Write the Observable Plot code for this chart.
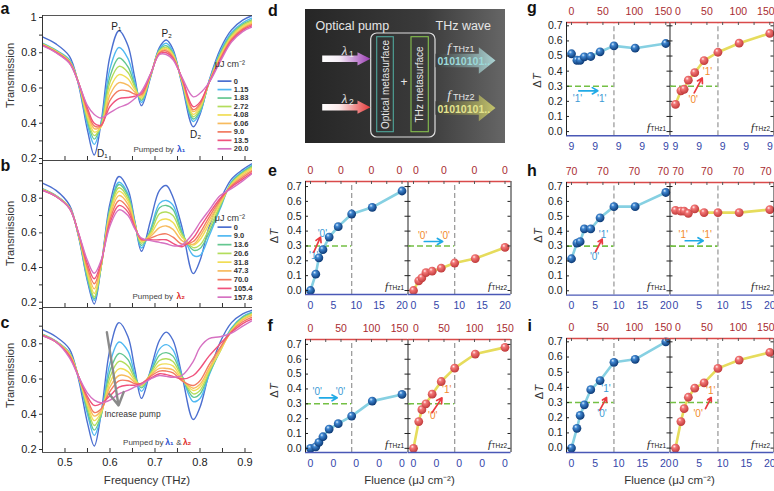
<!DOCTYPE html>
<html>
<head>
<meta charset="utf-8">
<script src="https://cdn.jsdelivr.net/npm/d3@7"></script>
<script src="https://cdn.jsdelivr.net/npm/@observablehq/plot@0.6"></script>
<style>
  html, body { margin: 0; padding: 0; background: #fff; }
  #fig { position: relative; width: 774px; height: 491px; overflow: hidden; font-family: 'Liberation Sans', Arial, sans-serif; }
</style>
</head>
<body>
<div id="fig">
<svg width="0" height="0" style="position:absolute">
  <defs>
    <radialGradient id="ballBlue" cx="0.42" cy="0.38" r="0.62" fx="0.36" fy="0.3">
      <stop offset="0" stop-color="#d9eeff"/>
      <stop offset="0.3" stop-color="#3f86d0"/>
      <stop offset="1" stop-color="#0b3874"/>
    </radialGradient>
    <radialGradient id="ballRed" cx="0.42" cy="0.38" r="0.62" fx="0.36" fy="0.3">
      <stop offset="0" stop-color="#fff2f2"/>
      <stop offset="0.3" stop-color="#f37676"/>
      <stop offset="1" stop-color="#c03a3a"/>
    </radialGradient>
    <linearGradient id="diagramBg" x1="0" x2="1" y1="0" y2="0">
      <stop offset="0" stop-color="#262626"/>
      <stop offset="0.6" stop-color="#3b3b3b"/>
      <stop offset="1" stop-color="#666666"/>
    </linearGradient>
    <linearGradient id="pump1Grad" x1="0" x2="1" y1="0" y2="0">
      <stop offset="0" stop-color="#ffffff"/>
      <stop offset="0.35" stop-color="#f5edf6"/>
      <stop offset="1" stop-color="#9a3cb3"/>
    </linearGradient>
    <linearGradient id="pump2Grad" x1="0" x2="1" y1="0" y2="0">
      <stop offset="0" stop-color="#ffffff"/>
      <stop offset="0.35" stop-color="#fbeaea"/>
      <stop offset="1" stop-color="#e33a3a"/>
    </linearGradient>
    <linearGradient id="wave1Grad" x1="0" x2="1" y1="0" y2="0">
      <stop offset="0" stop-color="#3a3a3a"/>
      <stop offset="1" stop-color="#abd3d3"/>
    </linearGradient>
    <linearGradient id="wave2Grad" x1="0" x2="1" y1="0" y2="0">
      <stop offset="0" stop-color="#3a3a3a"/>
      <stop offset="1" stop-color="#c4c46c"/>
    </linearGradient>
  </defs>
</svg>
</div>
<script>
// ---------- Transmission spectra (a–c) ----------
const freqTHz = [0.45, 0.48, 0.51, 0.53, 0.55, 0.565, 0.58, 0.60, 0.62, 0.64, 0.655, 0.67,
                 0.69, 0.71, 0.725, 0.74, 0.76, 0.785, 0.80, 0.82, 0.845, 0.87, 0.895, 0.915];
const pumpLabelsA = ["0", "1.15", "1.83", "2.72", "4.08", "6.06", "9.0", "13.5", "20.0"];
const pumpLabelsB = ["0", "9.0", "13.6", "20.6", "31.8", "47.3", "70.0", "105.4", "157.8"];
const pumpColors = ["#4c6fd0", "#50b8f2", "#64c790", "#b3dd5c", "#f1dd55", "#f7bb5e", "#f27a60", "#f0527c", "#d671c2"];

// pumped by λ1 (fluence in µJ cm⁻²: 0 … 20.0)
const transmissionA = [
  [0.89,0.85,0.78,0.62,0.36,0.22,0.40,0.78,0.925,0.84,0.66,0.50,0.66,0.83,0.872,0.82,0.62,0.38,0.45,0.64,0.82,0.93,0.985,1.01],
  [0.855,0.815,0.76,0.625,0.39,0.28,0.395,0.71,0.83,0.767,0.634,0.518,0.664,0.821,0.854,0.807,0.629,0.41,0.46,0.635,0.805,0.915,0.97,0.996],
  [0.852,0.812,0.755,0.63,0.41,0.31,0.39,0.665,0.77,0.72,0.617,0.53,0.667,0.816,0.84,0.798,0.634,0.424,0.47,0.63,0.795,0.905,0.962,0.987],
  [0.85,0.81,0.752,0.63,0.424,0.33,0.385,0.633,0.723,0.688,0.605,0.537,0.669,0.812,0.83,0.792,0.638,0.437,0.48,0.63,0.788,0.898,0.955,0.98],
  [0.848,0.808,0.75,0.63,0.44,0.35,0.38,0.598,0.676,0.652,0.592,0.546,0.671,0.807,0.826,0.786,0.643,0.45,0.49,0.63,0.78,0.89,0.948,0.973],
  [0.846,0.806,0.748,0.63,0.455,0.37,0.38,0.562,0.63,0.616,0.578,0.554,0.674,0.803,0.818,0.779,0.647,0.466,0.50,0.63,0.772,0.882,0.94,0.966],
  [0.844,0.804,0.745,0.63,0.47,0.385,0.385,0.53,0.585,0.583,0.566,0.562,0.676,0.799,0.81,0.773,0.651,0.477,0.51,0.63,0.765,0.875,0.934,0.959],
  [0.842,0.802,0.742,0.63,0.485,0.40,0.39,0.495,0.54,0.546,0.553,0.571,0.678,0.794,0.80,0.767,0.656,0.494,0.52,0.63,0.758,0.868,0.927,0.952],
  [0.84,0.80,0.74,0.63,0.50,0.45,0.43,0.46,0.49,0.51,0.54,0.58,0.68,0.79,0.79,0.76,0.66,0.55,0.57,0.63,0.75,0.86,0.92,0.945]
];
// pumped by λ2 (fluence in µJ cm⁻²: 0 … 157.8)
const transmissionB = [
  [0.887,0.845,0.76,0.58,0.32,0.19,0.40,0.77,0.925,0.85,0.67,0.494,0.67,0.845,0.873,0.806,0.633,0.365,0.44,0.633,0.79,0.91,0.965,0.998],
  [0.855,0.815,0.745,0.585,0.33,0.21,0.40,0.745,0.892,0.825,0.662,0.513,0.62,0.77,0.787,0.76,0.61,0.47,0.47,0.58,0.74,0.895,0.955,0.99],
  [0.853,0.814,0.745,0.585,0.34,0.22,0.40,0.737,0.879,0.814,0.659,0.527,0.61,0.745,0.758,0.735,0.60,0.50,0.51,0.60,0.75,0.89,0.95,0.985],
  [0.851,0.813,0.745,0.59,0.355,0.23,0.40,0.724,0.86,0.799,0.655,0.54,0.60,0.71,0.72,0.70,0.59,0.515,0.53,0.62,0.76,0.885,0.945,0.978],
  [0.85,0.812,0.745,0.59,0.37,0.25,0.41,0.711,0.84,0.784,0.65,0.55,0.59,0.67,0.68,0.66,0.575,0.53,0.56,0.65,0.77,0.88,0.94,0.97],
  [0.849,0.811,0.743,0.595,0.385,0.277,0.415,0.695,0.815,0.765,0.644,0.556,0.58,0.63,0.64,0.62,0.555,0.535,0.58,0.67,0.78,0.875,0.93,0.96],
  [0.847,0.81,0.742,0.595,0.40,0.306,0.42,0.676,0.787,0.742,0.638,0.56,0.57,0.59,0.594,0.575,0.535,0.55,0.60,0.69,0.79,0.87,0.92,0.955],
  [0.846,0.81,0.741,0.60,0.42,0.335,0.43,0.657,0.758,0.72,0.63,0.565,0.56,0.56,0.56,0.54,0.52,0.57,0.63,0.71,0.80,0.865,0.91,0.945],
  [0.845,0.81,0.74,0.60,0.44,0.367,0.44,0.64,0.733,0.70,0.625,0.57,0.555,0.545,0.537,0.525,0.53,0.60,0.66,0.73,0.815,0.855,0.90,0.94]
];
// pumped by λ1 & λ2 together, increasing pump
const transmissionC = [
  [0.88,0.84,0.77,0.60,0.35,0.22,0.40,0.77,0.92,0.84,0.66,0.49,0.65,0.82,0.866,0.82,0.62,0.37,0.44,0.63,0.81,0.92,0.97,0.99],
  [0.855,0.815,0.75,0.61,0.40,0.28,0.39,0.69,0.81,0.758,0.63,0.53,0.64,0.77,0.795,0.765,0.62,0.472,0.49,0.62,0.77,0.89,0.955,0.98],
  [0.853,0.814,0.748,0.615,0.42,0.31,0.39,0.645,0.745,0.71,0.615,0.55,0.635,0.735,0.75,0.73,0.615,0.497,0.515,0.63,0.76,0.885,0.95,0.975],
  [0.851,0.813,0.745,0.615,0.44,0.336,0.40,0.61,0.70,0.674,0.603,0.56,0.63,0.705,0.715,0.70,0.61,0.516,0.535,0.64,0.76,0.88,0.945,0.97],
  [0.85,0.812,0.742,0.615,0.455,0.364,0.41,0.58,0.658,0.642,0.592,0.565,0.625,0.68,0.686,0.675,0.60,0.535,0.555,0.65,0.76,0.875,0.94,0.965],
  [0.849,0.811,0.738,0.615,0.47,0.39,0.42,0.555,0.62,0.614,0.582,0.57,0.62,0.66,0.66,0.652,0.595,0.548,0.57,0.66,0.77,0.87,0.935,0.96],
  [0.848,0.81,0.733,0.615,0.485,0.41,0.43,0.53,0.59,0.59,0.574,0.575,0.615,0.645,0.645,0.635,0.59,0.563,0.59,0.68,0.78,0.87,0.925,0.95],
  [0.847,0.81,0.727,0.615,0.50,0.45,0.46,0.505,0.554,0.565,0.565,0.575,0.605,0.63,0.625,0.615,0.60,0.62,0.66,0.73,0.80,0.865,0.915,0.94],
  [0.845,0.81,0.72,0.615,0.52,0.48,0.465,0.48,0.516,0.535,0.555,0.57,0.60,0.62,0.615,0.61,0.62,0.70,0.78,0.83,0.84,0.86,0.90,0.93]
];
const freqTickLabels = [0.5, 0.6, 0.7, 0.8, 0.9];

// ---------- ΔT versus fluence (e–i) ----------
const pumpStepFluence = [0, 1.15, 1.83, 2.72, 4.08, 6.06, 9.0, 13.5, 20.0];
const bottomTicks = [0, 5, 10, 15, 20];          // λ1 axis, µJ cm⁻²
const topTicks = [0, 50, 100, 150];              // λ2 axis, µJ cm⁻²
const topMinorTicks = [0, 25, 50, 75, 100, 125, 150];
const lambda2PerLambda1 = 150 / 20;              // both axes span the same width
const deltaTicks = [0, 0.1, 0.2, 0.3, 0.4, 0.5, 0.6, 0.7];
const threshold = 0.3;
const switchFluence = 9;

const deltaE_THz1 = [0, 0.11, 0.22, 0.275, 0.36, 0.43, 0.515, 0.56, 0.67];
const deltaE_THz2 = [0, 0.065, 0.085, 0.12, 0.13, 0.15, 0.185, 0.215, 0.29];
const deltaF_THz1 = [0, 0.01, 0.04, 0.078, 0.13, 0.166, 0.217, 0.318, 0.363];
const deltaF_THz2 = [0, 0.18, 0.26, 0.30, 0.365, 0.45, 0.54, 0.635, 0.68];
const deltaG_THz1 = [0.515, 0.472, 0.472, 0.495, 0.497, 0.528, 0.567, 0.552, 0.583];
const deltaG_THz2 = [0.18, 0.27, 0.28, 0.34, 0.39, 0.47, 0.525, 0.585, 0.65];
const deltaH_THz1 = [0.215, 0.32, 0.33, 0.415, 0.415, 0.49, 0.565, 0.565, 0.66];
const deltaH_THz2 = [0.54, 0.535, 0.535, 0.52, 0.55, 0.525, 0.525, 0.525, 0.545];
const deltaI_THz1 = [0, 0.13, 0.215, 0.285, 0.385, 0.445, 0.565, 0.585, 0.70];
const deltaI_THz2 = [0, 0.175, 0.26, 0.335, 0.395, 0.43, 0.525, 0.58, 0.63];

const topTextE = ["0", "0", "0", "0"],        bottomTextE = ["0", "5", "10", "15", "20"];
const topTextF = ["0", "50", "100", "150"],   bottomTextF = ["0", "0", "0", "0", "0"];
const topTextG = ["0", "50", "100", "150"],   bottomTextG = ["9", "9", "9", "9", "9"];
const topTextH = ["70", "70", "70", "70"],    bottomTextH = ["0", "5", "10", "15", "20"];
const topTextI = ["0", "50", "100", "150"],   bottomTextI = ["0", "5", "10", "15", "20"];

// ---------- helpers ----------
const fig = document.getElementById("fig");
const FONT = "'Liberation Sans', Arial, Helvetica, sans-serif";
const svgStyle = {background: "transparent", fontFamily: FONT, overflow: "visible", position: "absolute"};
function mount(svg, left, top) {
  svg.style.left = left + "px";
  svg.style.top = top + "px";
  fig.appendChild(svg);
}
function label(x, y, text, opts = {}) {
  return Plot.text([{x, y, text}], {x: "x", y: "y", text: "text", ...opts});
}

// ---------- spectra panels ----------
const specX = [0.45, 0.9167];
const specFrameW = 210;
function spectrumPanel({series, frameTop, frameBottom, yDom, yLabels, xLabels, legend, extras}) {
  const mT = 15, mL = 42, mR = 10, mB = xLabels ? 40 : 2;
  const frameH = frameBottom - frameTop;
  const perPxY = (yDom[1] - yDom[0]) / frameH;
  const perPxX = (specX[1] - specX[0]) / specFrameW;
  const rows = series.flatMap((vals, k) => vals.map((t, i) => ({f: freqTHz[i], t, k, color: pumpColors[k]})));
  const marks = [
    Plot.line(rows, {x: "f", y: "t", z: "k", stroke: "color", strokeWidth: 1.4, curve: "catmull-rom", clip: true}),
    Plot.ruleY([yDom[1]], {stroke: "#444", strokeWidth: 0.9}),
    Plot.ruleY([yDom[0]], {stroke: "#444", strokeWidth: 0.9}),
    Plot.ruleX([specX[0]], {stroke: "#333", strokeWidth: 1}),
    Plot.ruleX(d3.range(0.5, 0.91, 0.05), {y1: yDom[0], y2: yDom[0] + 4 * perPxY, stroke: "#333"}),
    Plot.ruleY(d3.range(0.2, yDom[1], 0.1), {x1: specX[0] - 3 * perPxX, x2: specX[0], stroke: "#333"}),
    Plot.text(yLabels, {x: () => specX[0], y: d => d, text: d => d === 1 ? "1" : d.toFixed(1), textAnchor: "end", dx: -6, fontSize: 11, fill: "#222"})
  ];
  if (xLabels) {
    marks.push(Plot.text(xLabels, {x: d => d, y: () => yDom[0], text: d => d.toFixed(1), dy: 10, fontSize: 11, fill: "#222"}));
  }
  if (legend) {
    const entries = legend.labels.map((lab, k) => ({lab, color: pumpColors[k], y: legend.y0 - k * legend.step}));
    marks.push(
      label(0.833, legend.titleY, "μJ cm⁻²", {textAnchor: "start", fontSize: 9, fill: "#333"}),
      Plot.link(entries, {x1: () => 0.839, x2: () => 0.870, y1: "y", y2: "y", stroke: "color", strokeWidth: 1.7}),
      Plot.text(entries, {x: () => 0.875, y: "y", text: "lab", textAnchor: "start", fontSize: 7.5, fontWeight: "bold", fill: "#333"})
    );
  }
  marks.push(...extras);
  const svg = Plot.plot({
    width: specFrameW + mL + mR, height: frameH + mT + mB,
    marginTop: mT, marginBottom: mB, marginLeft: mL, marginRight: mR,
    x: {domain: specX, axis: null}, y: {domain: yDom, axis: null},
    color: {type: "identity"},
    style: svgStyle, marks
  });
  mount(svg, 0, frameTop - mT);
}

const pumpedFont = {fontSize: 8, textAnchor: "start", fill: "#444"};
const lambdaFont = {fontSize: 8.5, textAnchor: "start", fontWeight: "bold"};
const peakFont = {fontSize: 10, fill: "#222"};

spectrumPanel({
  series: transmissionA, frameTop: 15, frameBottom: 160, yDom: [0.1887, 1.0113],
  yLabels: [0.2, 0.4, 0.6, 0.8, 1],
  legend: {labels: pumpLabelsA, titleY: 0.735, y0: 0.639, step: 0.048},
  extras: [
    label(0.614, 0.948, "P₁", peakFont),
    label(0.726, 0.905, "P₂", peakFont),
    label(0.583, 0.226, "D₁", peakFont),
    label(0.79, 0.337, "D₂", peakFont),
    label(0.652, 0.251, "Pumped by", pumpedFont),
    label(0.749, 0.251, "λ₁", {...lambdaFont, fill: "#2a4fcf"})
  ]
});
spectrumPanel({
  series: transmissionB, frameTop: 160, frameBottom: 307, yDom: [0.1694, 1.0175],
  yLabels: [0.2, 0.4, 0.6, 0.8],
  legend: {labels: pumpLabelsB, titleY: 0.685, y0: 0.633, step: 0.0505},
  extras: [
    label(0.65, 0.233, "Pumped by", pumpedFont),
    label(0.748, 0.233, "λ₂", {...lambdaFont, fill: "#e02a2a"})
  ]
});
spectrumPanel({
  series: transmissionC, frameTop: 307, frameBottom: 452, yDom: [0.183, 1.006],
  yLabels: [0.2, 0.4, 0.6, 0.8], xLabels: freqTickLabels,
  extras: [
    Plot.arrow([{x1: 0.593, y1: 0.866, x2: 0.619, y2: 0.45}], {x1: "x1", y1: "y1", x2: "x2", y2: "y2", stroke: "#8a8a8a", strokeWidth: 2.4, headLength: 9}),
    label(0.65, 0.399, "Increase pump", {fontSize: 8.5, fill: "#333"}),
    label(0.629, 0.241, "Pumped by", pumpedFont),
    label(0.723, 0.241, "λ₁", {...lambdaFont, fill: "#2a4fcf"}),
    label(0.747, 0.241, "&", {fontSize: 8, textAnchor: "start", fill: "#444"}),
    label(0.762, 0.241, "λ₂", {...lambdaFont, fill: "#e02a2a"})
  ]
});

// ---------- schematic (d) ----------
function blockArrow(x0, x1, yc, body, head, headLen) {
  const xh = x1 - headLen;
  return [[x0, yc - body / 2], [xh, yc - body / 2], [xh, yc - head / 2], [x1, yc],
          [xh, yc + head / 2], [xh, yc + body / 2], [x0, yc + body / 2]].map(([x, y]) => ({x, y}));
}
const pumpBeams = [{grad: "pump1Grad", y: 49.3, sub: "1"}, {grad: "pump2Grad", y: 97.7, sub: "2"}];
const thzBeams = [{grad: "wave1Grad", y: 51, sub: "THz1", bitColor: "#9bd9d9"},
                  {grad: "wave2Grad", y: 98.5, sub: "THz2", bitColor: "#e4e48e"}];
const bits = "01010101..";
{
  const W = 200, H = 134;
  const light = "#e6e6e6";
  const marks = [
    Plot.rect([{}], {x1: () => 0, x2: () => W, y1: () => 0, y2: () => H, fill: "url(#diagramBg)"}),
    Plot.rect([{}], {x1: () => 65.7, x2: () => 130, y1: () => 24, y2: () => 128, fill: "none", stroke: "#dedede", strokeWidth: 1.2, rx: 6}),
    Plot.rect([{}], {x1: () => 71.7, x2: () => 88.3, y1: () => 27.7, y2: () => 122.7, fill: "none", stroke: "#4fa79c", strokeWidth: 1.1}),
    Plot.rect([{}], {x1: () => 106, x2: () => 123.3, y1: () => 27.7, y2: () => 122.7, fill: "none", stroke: "#86c04e", strokeWidth: 1.1}),
    label(80, 75, "Optical metasurface", {rotate: -90, fontSize: 10, fill: light}),
    label(114.7, 75, "THz metasurface", {rotate: -90, fontSize: 10, fill: light}),
    label(98.5, 72.7, "+", {fontSize: 12, fill: light}),
    label(10, 16, "Optical pump", {textAnchor: "start", fontSize: 12.5, fill: light}),
    label(130, 16, "THz wave", {textAnchor: "start", fontSize: 12.5, fill: light})
  ];
  for (const b of pumpBeams) {
    marks.push(
      Plot.line(blockArrow(16.7, 65, b.y, 6.5, 13.3, 13), {x: "x", y: "y", fill: `url(#${b.grad})`, stroke: "none"}),
      label(39, b.y - 8, "λ", {fontFamily: "'Liberation Serif', serif", fontStyle: "italic", fontSize: 13, fill: light}),
      label(43.5, b.y - 4.8, b.sub, {textAnchor: "start", fontSize: 8.5, fill: light})
    );
  }
  for (const b of thzBeams) {
    marks.push(
      Plot.line(blockArrow(130, 190, b.y, 13.3, 26.7, 16.7), {x: "x", y: "y", fill: `url(#${b.grad})`, stroke: "none"}),
      label(143.5, b.y - 13, "f", {fontFamily: "'Liberation Serif', serif", fontStyle: "italic", fontSize: 13, fill: light}),
      label(147.5, b.y - 11, b.sub, {textAnchor: "start", fontSize: 9, fill: light}),
      label(132, b.y + 1.2, bits, {textAnchor: "start", fontSize: 10.5, fontWeight: "bold", fill: b.bitColor})
    );
  }
  const svg = Plot.plot({
    width: W, height: H, margin: 0,
    x: {domain: [0, W], range: [0, W], axis: null},
    y: {domain: [0, H], range: [0, H], axis: null},
    style: svgStyle, marks
  });
  mount(svg, 305, 9);
}

// ---------- ΔT panels (e–i) ----------
const deltaPanels = {
  e: {left: 305, top: 181, w: 102.5, h: 113, xDom: [-1.09, 21.31], yDom: [-0.027, 0.734],
      thz: [deltaE_THz1, deltaE_THz2], topText: topTextE, bottomText: bottomTextE,
      notes: [[{x: 0.7, y: 0.235, text: "'1'"}, {x: 2.6, y: 0.38, text: "'0'"}],
              [{x: 2.0, y: 0.37, text: "'0'"}, {x: 6.95, y: 0.37, text: "'0'"}]],
      arrows: [{x1: 0.72, y1: 0.258, x2: 2.19, y2: 0.359, flip: true},
               {x1: 2.36, y1: 0.33, x2: 6.38, y2: 0.33, flip: false}]},
  f: {left: 305, top: 338.5, w: 102.5, h: 113, xDom: [-1.09, 21.31], yDom: [-0.028, 0.733],
      thz: [deltaF_THz1, deltaF_THz2], topText: topTextF, bottomText: bottomTextF,
      notes: [[{x: 1.46, y: 0.379, text: "'0'"}, {x: 6.56, y: 0.379, text: "'0'"}],
              [{x: 7.25, y: 0.392, text: "'1'"}, {x: 4.2, y: 0.217, text: "'0'"}]],
      arrows: [{x1: 1.97, y1: 0.34, x2: 5.83, y2: 0.34, flip: false},
               {x1: 4.04, y1: 0.24, x2: 6.23, y2: 0.34, flip: true}]},
  g: {left: 566, top: 21.7, w: 103.5, h: 113.3, xDom: [-1.06, 20.89], yDom: [-0.028, 0.722],
      thz: [deltaG_THz1, deltaG_THz2], topText: topTextG, bottomText: bottomTextG,
      notes: [[{x: 1.27, y: 0.215, text: "'1'"}, {x: 6.4, y: 0.215, text: "'1'"}],
              [{x: 6.8, y: 0.395, text: "'1'"}, {x: 3.76, y: 0.21, text: "'0'"}]],
      arrows: [{x1: 1.55, y1: 0.27, x2: 5.58, y2: 0.27, flip: false},
               {x1: 3.97, y1: 0.256, x2: 5.67, y2: 0.355, flip: true}]},
  h: {left: 566, top: 181.7, w: 103.5, h: 112.6, xDom: [-1.06, 20.89], yDom: [-0.029, 0.727],
      thz: [deltaH_THz1, deltaH_THz2], topText: topTextH, bottomText: bottomTextH,
      notes: [[{x: 6.8, y: 0.376, text: "'1'"}, {x: 4.9, y: 0.225, text: "'0'"}],
              [{x: 1.63, y: 0.376, text: "'1'"}, {x: 6.72, y: 0.376, text: "'1'"}]],
      arrows: [{x1: 5.1, y1: 0.262, x2: 6.5, y2: 0.347, flip: true},
               {x1: 2.06, y1: 0.336, x2: 5.88, y2: 0.336, flip: false}]},
  i: {left: 566, top: 337.7, w: 103.5, h: 114, xDom: [-1.06, 20.89], yDom: [-0.029, 0.722],
      thz: [deltaI_THz1, deltaI_THz2], topText: topTextI, bottomText: bottomTextI,
      notes: [[{x: 7.3, y: 0.39, text: "'1'"}, {x: 6.45, y: 0.224, text: "'0'"}],
              [{x: 7.47, y: 0.377, text: "'1'"}, {x: 4.8, y: 0.224, text: "'0'"}]],
      arrows: [{x1: 6.0, y1: 0.25, x2: 7.43, y2: 0.333, flip: true},
               {x1: 6.36, y1: 0.26, x2: 7.57, y2: 0.333, flip: true}]}
};

function deltaSubplot(P, side) {
  const first = side === 0;
  const [x0, x1] = P.xDom, [y0, y1] = P.yDom;
  const pxX = P.w / (x1 - x0), pxY = P.h / (y1 - y0);
  const pts = pumpStepFluence.map((x, i) => ({x, v: P.thz[side][i]}));
  const arrow = P.arrows[side];
  const mL = first ? 40 : 0, mR = first ? 0 : 3, mT = 22, mB = 22;
  const frameLeft = first ? P.left : P.left + P.w;
  // nudge the labels that meet at the divider, and keep the last one inside the page
  const firstShift = first ? 0 : 2.5;
  const lastShift = first ? -2.5 : (frameLeft + P.w > 770 ? -4 : 0);
  const topFont = {x: v => v / lambda2PerLambda1, y: () => y1, dy: -10.5, fontSize: 10.5, fill: "#a92b31"};
  const marks = [
    Plot.ruleX([switchFluence], {y1: y0, y2: y1, stroke: "#9d9d9d", strokeWidth: 1.3, strokeDasharray: "5,3"}),
    Plot.ruleY([threshold], {x1: x0, x2: switchFluence, stroke: "#74c044", strokeWidth: 1.6, strokeDasharray: "6,3"}),
    Plot.line(pts, {x: "x", y: "v", stroke: first ? "#86d0e2" : "#e6dc5c", strokeWidth: 2.6}),
    Plot.dot(pts, {x: "x", y: "v", r: 4.4, fill: first ? "url(#ballBlue)" : "url(#ballRed)"}),
    Plot.ruleY([y1], {stroke: "#d94a4a", strokeWidth: 1.4}),
    Plot.ruleY([y0], {stroke: "#4a58b6", strokeWidth: 1.4}),
    Plot.ruleX([x1], {stroke: "#222", strokeWidth: 1}),
    Plot.ruleY(deltaTicks, {x1: x1 - 3 / pxX, x2: first ? x1 + 3 / pxX : x1, stroke: "#222"}),
    Plot.ruleX(topMinorTicks.map(v => v / lambda2PerLambda1), {y1: y1, y2: y1 - 3 / pxY, stroke: "#555"}),
    Plot.text(topTicks.slice(0, 1), {...topFont, text: () => P.topText[0], dx: firstShift}),
    Plot.text(topTicks.slice(1, 3), {...topFont, text: (v, i) => P.topText[1 + i]}),
    Plot.text(topTicks.slice(3), {...topFont, text: () => P.topText[3], dx: lastShift}),
    Plot.text(bottomTicks, {x: v => v, y: () => y0, text: (v, i) => P.bottomText[i], dy: 11, fontSize: 10.5, fill: "#3446a8"}),
    label(x1, y0 + 0.055, "f", {dx: -20, textAnchor: "end", fontFamily: "'Liberation Serif', serif", fontStyle: "italic", fontSize: 11, fill: "#222"}),
    label(x1, y0 + 0.045, first ? "THz1" : "THz2", {dx: -4, textAnchor: "end", fontSize: 6.5, fill: "#222"}),
    Plot.text(P.notes[side], {x: "x", y: "y", text: "text", fill: first ? "#3b9ad4" : "#f28a2c", fontSize: 10}),
    Plot.arrow([arrow], {x1: "x1", y1: "y1", x2: "x2", y2: "y2", stroke: arrow.flip ? "#ea3a40" : "#20aae6", strokeWidth: 1.7, headLength: 6})
  ];
  if (first) {
    marks.push(
      Plot.ruleX([x0], {stroke: "#222", strokeWidth: 1}),
      Plot.ruleY(deltaTicks, {x1: x0, x2: x0 + 3 / pxX, stroke: "#222"}),
      Plot.text(deltaTicks, {x: () => x0, y: d => d, text: d => d.toFixed(1), textAnchor: "end", dx: -4, fontSize: 10.5, fill: "#222"})
    );
  }
  const svg = Plot.plot({
    width: P.w + mL + mR, height: P.h + mT + mB,
    marginLeft: mL, marginRight: mR, marginTop: mT, marginBottom: mB,
    x: {domain: P.xDom, axis: null}, y: {domain: P.yDom, axis: null},
    style: svgStyle, marks
  });
  mount(svg, frameLeft - mL, P.top - mT);
}
for (const key of ["e", "f", "g", "h", "i"]) {
  deltaSubplot(deltaPanels[key], 0);
  deltaSubplot(deltaPanels[key], 1);
}

// ---------- page-level titles and panel letters ----------
const panelLetters = [
  {id: "a", x: 0, y: 13.5}, {id: "b", x: 0, y: 170}, {id: "c", x: 0, y: 327},
  {id: "d", x: 267.5, y: 15}, {id: "e", x: 267.5, y: 175}, {id: "f", x: 267, y: 330},
  {id: "g", x: 526.5, y: 12.5}, {id: "h", x: 526.5, y: 175}, {id: "i", x: 527, y: 330}
];
const transmissionTitles = [{x: 10, y: 75}, {x: 10, y: 233}, {x: 10, y: 375}];
const deltaTitles = [{x: 274, y: 235.5}, {x: 274, y: 390}, {x: 537, y: 80}, {x: 538, y: 235}, {x: 539, y: 391.5}];
const fluenceTitles = [{x: 409, y: 480}, {x: 669, y: 480}];
{
  const page = Plot.plot({
    width: 774, height: 491, margin: 0,
    x: {domain: [0, 774], range: [0, 774], axis: null},
    y: {domain: [0, 491], range: [0, 491], axis: null},
    style: svgStyle,
    marks: [
      Plot.text(panelLetters, {x: "x", y: "y", text: "id", textAnchor: "start", lineAnchor: "bottom", fontSize: 16, fontWeight: "bold", fill: "#111"}),
      Plot.text(transmissionTitles, {x: "x", y: "y", text: () => "Transmission", rotate: -90, fontSize: 11, fill: "#333"}),
      Plot.text(deltaTitles, {x: "x", y: d => d.y + 3.5, text: () => "Δ", rotate: -90, fontSize: 11, fill: "#333"}),
      Plot.text(deltaTitles, {x: "x", y: d => d.y - 3.8, text: () => "T", rotate: -90, fontSize: 11, fontStyle: "italic", fill: "#333"}),
      Plot.text(fluenceTitles, {x: "x", y: "y", text: () => "Fluence (μJ cm⁻²)", fontSize: 11.5, fill: "#333"}),
      label(146.5, 480, "Frequency (THz)", {fontSize: 11.5, fill: "#333"})
    ]
  });
  mount(page, 0, 0);
}
</script>
</body>
</html>
